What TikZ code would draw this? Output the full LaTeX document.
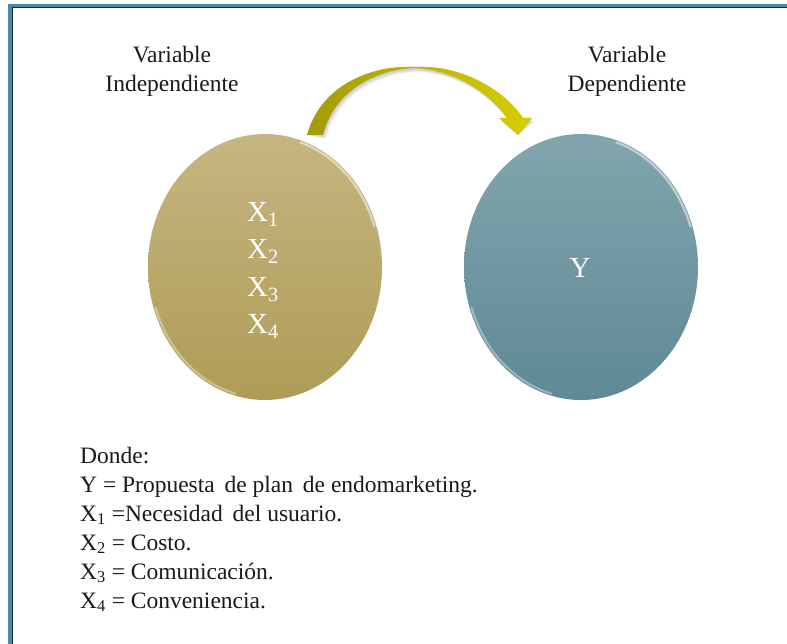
\documentclass[tikz,border=0pt]{standalone}
\usepackage{fontspec}
\setmainfont{Liberation Serif}
\usetikzlibrary{shapes.geometric,calc}

\definecolor{framebl}{HTML}{4A8AA5}
\definecolor{framedk}{HTML}{1C2A30}
\definecolor{indtop}{HTML}{C5B682}
\definecolor{indbot}{HTML}{AE9C56}
\definecolor{deptop}{HTML}{82A5AE}
\definecolor{depbot}{HTML}{5F8996}
\definecolor{arrowl}{HTML}{A39B08}
\definecolor{arrowm}{HTML}{C9C020}
\definecolor{arrowr}{HTML}{D8CD00}
\definecolor{txt}{HTML}{1A1A1A}

\newcommand{\sub}[1]{\textsubscript{#1}}

\tikzset{
  varcircle/.style={ellipse, minimum width=234pt, minimum height=266pt, inner sep=0pt},
  heading/.style={font=\fontsize{23.5}{30}\selectfont, text=txt, align=center, anchor=base},
  inner/.style={font=\fontsize{29}{37}\selectfont, text=white, anchor=base},
  legend/.style={font=\fontsize{23.5}{29}\selectfont, text=txt, anchor=base west, inner sep=0pt},
  rim/.style={line width=2.2pt, white, opacity=0.5, line cap=round},
}

\begin{document}
\begin{tikzpicture}[x=1pt,y=-1pt]
  \useasboundingbox (0,0) rectangle (787,644);
  \fill[white] (0,0) rectangle (787,644);

  % outer frame (top and left edges)
  \fill[framebl] (8,4) rectangle (787,7);
  \fill[framebl] (8,4) rectangle (11.5,644);
  \fill[framedk] (11.5,7) rectangle (787,8);
  \fill[framedk] (11.5,7) rectangle (12.5,644);

  % headings
  \node[heading] (hind1) at (172,63) {Variable};
  \node[heading] (hind2) at (172,92) {Independiente};
  \node[heading] (hdep1) at (627,63) {Variable};
  \node[heading] (hdep2) at (627,92) {Dependiente};

  % the two variable ovals
  \node[varcircle, top color=indtop, bottom color=indbot] (indep) at (265,267) {};
  \node[varcircle, top color=deptop, bottom color=depbot] (dep) at (581,267) {};
  \foreach \n in {indep,dep}{
    \draw[rim] ($(\n.center)+(18:115pt and 131pt)$)
      arc[start angle=18, end angle=72, x radius=115pt, y radius=131pt];
    \draw[rim, opacity=0.35] ($(\n.center)+(198:115pt and 131pt)$)
      arc[start angle=198, end angle=255, x radius=115pt, y radius=131pt];
  }

  % independent variables
  \node[inner] (x1) at (263,222) {X\sub{1}};
  \node[inner] (x2) at (263,259) {X\sub{2}};
  \node[inner] (x3) at (263,297) {X\sub{3}};
  \node[inner] (x4) at (263,334) {X\sub{4}};
  % dependent variable
  \node[inner] (y) at (580,278) {Y};

  % curved arrow from the independent to the dependent oval
  \coordinate (astart) at (307,135);
  \coordinate (apeak) at (415,66);
  \coordinate (atip) at (518,135);
  \foreach \d/\o in {3/0.05,2/0.06,1/0.07}{
    \fill[black, opacity=\o, shift={(\d,\d+1)}]
      (astart) .. controls (320,88) and (365,66) .. (apeak)
        .. controls (470,66) and (508,95) .. (523,118)
        -- (532,118) -- (atip) -- (499,118) -- (507,118)
        .. controls (490,95) and (460,71) .. (415,68)
        .. controls (370,70) and (333,95) .. (323,135) -- cycle;
  }
  \shade[left color=arrowl, middle color=arrowm, right color=arrowr]
    (astart) .. controls (320,88) and (365,66) .. (apeak)
      .. controls (470,66) and (508,95) .. (523,118)
      -- (532,118) -- (atip) -- (499,118) -- (507,118)
      .. controls (490,95) and (460,71) .. (415,68)
      .. controls (370,70) and (333,95) .. (323,135) -- cycle;
  \draw[white, opacity=0.75, line width=1.3pt, line cap=round]
    (392,67) .. controls (405,66) and (425,66) .. (440,67);

  % legend
  \node[legend] (l0) at (80,463) {Donde:};
  \node[legend] (l1) at (80,492) {Y = Propuesta\, de plan\, de endomarketing.};
  \node[legend] (l2) at (80,521) {X\sub{1} =Necesidad\, del usuario.};
  \node[legend] (l3) at (80,550) {X\sub{2} = Costo.};
  \node[legend] (l4) at (80,579) {X\sub{3} = Comunicación.};
  \node[legend] (l5) at (80,608) {X\sub{4} = Conveniencia.};
\end{tikzpicture}
\end{document}
